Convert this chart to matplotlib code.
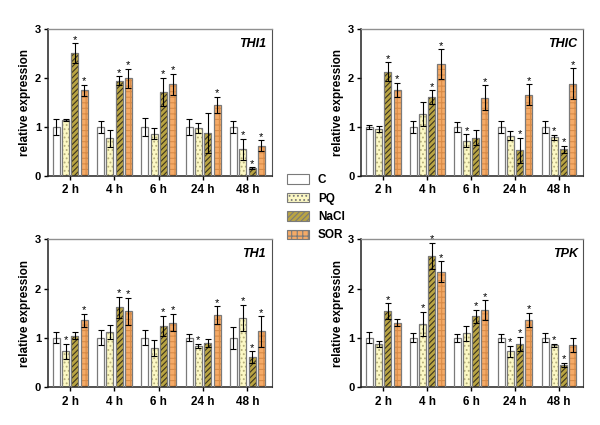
import matplotlib
matplotlib.use('Agg')
import matplotlib.pyplot as plt
import matplotlib.patches as mpatches
import numpy as np

plt.rcParams['font.family'] = ['Liberation Sans', 'DejaVu Sans']
plt.rcParams['font.weight'] = 'bold'
plt.rcParams['hatch.linewidth'] = 0.8

times = ['2 h', '4 h', '6 h', '24 h', '48 h']
treatments = ['C', 'PQ', 'NaCl', 'SOR']

# means and error-bar tops per gene, rows = treatments, cols = times
thi1_mean = [[1.0, 1.0, 1.0, 1.0, 1.0],
             [1.14, 0.77, 0.86, 0.98, 0.54],
             [2.51, 1.94, 1.71, 0.87, 0.16],
             [1.75, 1.99, 1.87, 1.445, 0.62]]
thi1_top = [[1.16, 1.12, 1.18, 1.16, 1.13],
            [1.16, 0.94, 0.97, 1.09, 0.76],
            [2.71, 2.03, 2.0, 1.28, 0.18],
            [1.86, 2.18, 2.08, 1.61, 0.73]]
thi1_sig = [[0, 0, 0, 0, 0], [0, 0, 0, 0, 1], [1, 1, 1, 0, 1], [1, 1, 1, 1, 1]]

thic_mean = [[1.0, 1.0, 1.0, 1.0, 1.0],
             [0.955, 1.26, 0.72, 0.82, 0.79],
             [2.13, 1.61, 0.78, 0.525, 0.54],
             [1.76, 2.28, 1.6, 1.66, 1.88]]
thic_top = [[1.04, 1.13, 1.1, 1.13, 1.12],
            [1.01, 1.5, 0.85, 0.91, 0.84],
            [2.32, 1.745, 0.93, 0.78, 0.62],
            [1.9, 2.58, 1.85, 1.87, 2.2]]
thic_sig = [[0, 0, 0, 0, 0], [0, 0, 1, 0, 1], [1, 1, 0, 1, 1], [1, 1, 1, 1, 1]]

th1_mean = [[1.0, 1.0, 1.0, 1.0, 1.0],
            [0.73, 1.12, 0.80, 0.835, 1.40],
            [1.045, 1.62, 1.24, 0.9, 0.61],
            [1.36, 1.54, 1.31, 1.46, 1.13]]
th1_top = [[1.11, 1.15, 1.15, 1.07, 1.22],
           [0.88, 1.27, 0.96, 0.88, 1.67],
           [1.11, 1.83, 1.45, 0.98, 0.73],
           [1.49, 1.81, 1.49, 1.64, 1.44]]
th1_sig = [[0, 0, 0, 0, 0], [1, 0, 0, 1, 1], [0, 1, 1, 0, 1], [1, 1, 1, 1, 1]]

tpk_mean = [[1.0, 1.0, 1.0, 1.0, 1.0],
            [0.876, 1.28, 1.09, 0.73, 0.85],
            [1.54, 2.66, 1.44, 0.876, 0.455],
            [1.31, 2.34, 1.56, 1.37, 0.86]]
tpk_top = [[1.11, 1.09, 1.08, 1.08, 1.09],
           [0.94, 1.53, 1.24, 0.84, 0.88],
           [1.70, 2.93, 1.575, 1.02, 0.50],
           [1.385, 2.55, 1.76, 1.51, 1.0]]
tpk_sig = [[0, 0, 0, 0, 0], [0, 1, 0, 1, 1], [1, 1, 1, 1, 1], [0, 1, 1, 1, 0]]

genes = ['THI1', 'THIC', 'TH1', 'TPK']
means = [thi1_mean, thic_mean, th1_mean, tpk_mean]
tops = [thi1_top, thic_top, th1_top, tpk_top]
sigs = [thi1_sig, thic_sig, th1_sig, tpk_sig]

# fill, hatch, hatch colour per treatment
fills = ['white', '#fcf8c4', '#b9a443', '#f5aa66']
hatches = [None, '....', '//////', '+++']
hatch_cols = ['#888888', '#b5ae7a', '#3a3320', '#d98c48']

fig = plt.figure(figsize=(6, 4.25), dpi=100)
positions = [[0.08, 0.586, 0.373, 0.346],
             [0.602, 0.586, 0.370, 0.346],
             [0.08, 0.089, 0.373, 0.348],
             [0.602, 0.089, 0.370, 0.348]]

x = np.arange(len(times))
width = 0.16
offsets = [-0.315, -0.105, 0.105, 0.315]

for pos, gene, m, t, s in zip(positions, genes, means, tops, sigs):
    ax = fig.add_axes(pos)
    for i in range(len(treatments)):
        mv = np.array(m[i])
        err = np.array(t[i]) - mv
        xs = x + offsets[i]
        if hatches[i]:
            ax.bar(xs, mv, width, color=fills[i], edgecolor=hatch_cols[i],
                   hatch=hatches[i], linewidth=0, zorder=2)
        else:
            ax.bar(xs, mv, width, color=fills[i], linewidth=0, zorder=2)
        ax.bar(xs, mv, width, color='none', edgecolor='#7a7a7a', linewidth=0.9, zorder=3)
        ax.errorbar(xs, mv, yerr=err, fmt='none', ecolor='black', elinewidth=0.8,
                    capsize=2.2, capthick=0.8, zorder=4)
        for k in range(len(times)):
            if s[i][k]:
                ax.text(xs[k], t[i][k] - 0.03, '*', ha='center', va='bottom',
                        fontsize=8, fontweight='normal', zorder=5)
    ax.set_xlim(-0.5, 4.55)
    ax.set_ylim(0, 3)
    ax.set_yticks([0, 1, 2, 3])
    ax.set_xticks(x)
    ax.set_xticklabels(times, fontsize=8.5, fontweight='bold')
    ax.tick_params(axis='y', labelsize=8, width=1, length=3, pad=2)
    ax.tick_params(axis='x', width=1, length=3, pad=3)
    ax.set_ylabel('relative expression', fontsize=8.5, fontweight='bold', labelpad=3)
    for sp in ['left', 'bottom']:
        ax.spines[sp].set_color('#222222')
        ax.spines[sp].set_linewidth(1.1)
    ax.spines['top'].set_color('#909090')
    ax.spines['right'].set_color('#505050')
    ax.spines['top'].set_linewidth(1.0)
    ax.spines['right'].set_linewidth(0.8)
    ax.text(0.975, 0.94, gene, transform=ax.transAxes, ha='right', va='top',
            fontsize=9, fontweight='bold', style='italic')

handles = []
for i in range(len(treatments)):
    handles.append(mpatches.Patch(facecolor=fills[i], edgecolor='#7a7a7a',
                                  hatch=hatches[i], linewidth=0.8, label=treatments[i]))
leg = fig.legend(handles=handles, loc='upper left', bbox_to_anchor=(0.465, 0.61),
                 frameon=False, fontsize=8.5, handlelength=1.8, handleheight=0.9,
                 labelspacing=0.55, handletextpad=0.8, borderpad=0.2)
for txt in leg.get_texts():
    txt.set_fontweight('bold')

fig.savefig('out.png', dpi=100)
